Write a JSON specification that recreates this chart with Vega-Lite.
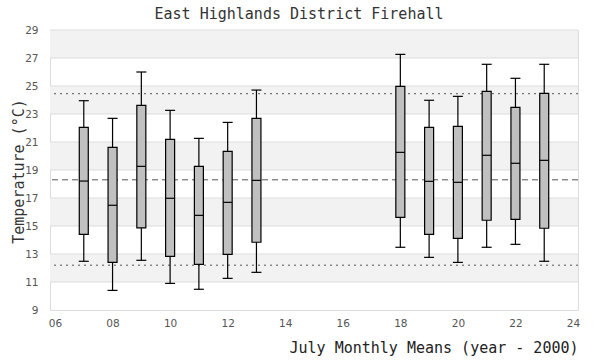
{
  "$schema": "https://vega.github.io/schema/vega-lite/v6.json",
  "width": 528,
  "height": 280,
  "autosize": "none",
  "padding": {"left": 50, "top": 30, "right": 22, "bottom": 50},
  "background": "white",
  "title": {"text": "East Highlands District Firehall", "font": "DejaVu Sans Mono", "fontSize": 15, "fontWeight": "normal", "color": "#333", "anchor": "middle", "dx": -15, "offset": 3},
  "config": {
    "view": {"stroke": "#dddddd", "strokeWidth": 1},
    "axis": {"domain": false, "ticks": false, "grid": false, "labelFont": "DejaVu Sans", "labelFontSize": 10.5, "labelColor": "#555", "labelOverlap": false},
    "axisY": {"labelPadding": 12, "labelOverlap": false, "titleFont": "DejaVu Sans Mono", "titleFontSize": 15, "titleFontWeight": "normal", "titleColor": "#333",
      "titleX": -32, "titleY": 141, "titleAngle": 270, "titleBaseline": "middle", "titleAlign": "center"},
    "axisX": {"labelPadding": 8, "titleFont": "DejaVu Sans Mono", "titleFontSize": 15, "titleFontWeight": "normal", "titleColor": "#222",
      "titleX": 528, "titleY": 42, "titleAlign": "right", "titleBaseline": "alphabetic"}
  },
  "datasets": {
    "bands": [
      {"lo": 11, "hi": 13}, {"lo": 15, "hi": 17}, {"lo": 19, "hi": 21}, {"lo": 23, "hi": 25}, {"lo": 27, "hi": 29}
    ],
    "refs": [
      {"kind": "mean", "v": 18.3},
      {"kind": "limit", "v": 24.45},
      {"kind": "limit", "v": 12.2}
    ],
    "boxes": [
      {"year": 7, "lower": 12.48, "q1": 14.4, "median": 18.21, "q3": 22.05, "upper": 23.95},
      {"year": 8, "lower": 10.4, "q1": 12.4, "median": 16.48, "q3": 20.62, "upper": 22.69},
      {"year": 9, "lower": 12.55, "q1": 14.86, "median": 19.26, "q3": 23.62, "upper": 26.0},
      {"year": 10, "lower": 10.9, "q1": 12.83, "median": 16.98, "q3": 21.19, "upper": 23.26},
      {"year": 11, "lower": 10.48, "q1": 12.26, "median": 15.76, "q3": 19.26, "upper": 21.26},
      {"year": 12, "lower": 11.26, "q1": 12.98, "median": 16.69, "q3": 20.33, "upper": 22.4},
      {"year": 13, "lower": 11.69, "q1": 13.84, "median": 18.26, "q3": 22.69, "upper": 24.71},
      {"year": 18, "lower": 13.48, "q1": 15.62, "median": 20.26, "q3": 24.98, "upper": 27.26},
      {"year": 19, "lower": 12.76, "q1": 14.4, "median": 18.19, "q3": 22.05, "upper": 23.98},
      {"year": 20, "lower": 12.4, "q1": 14.12, "median": 18.12, "q3": 22.12, "upper": 24.26},
      {"year": 21, "lower": 13.48, "q1": 15.41, "median": 20.05, "q3": 24.62, "upper": 26.55},
      {"year": 22, "lower": 13.69, "q1": 15.48, "median": 19.48, "q3": 23.48, "upper": 25.55},
      {"year": 23, "lower": 12.48, "q1": 14.84, "median": 19.69, "q3": 24.48, "upper": 26.55}
    ]
  },
  "layer": [
    {
      "data": {"name": "bands"},
      "mark": {"type": "rect", "color": "#f2f2f2"},
      "encoding": {
        "y": {"field": "lo", "type": "quantitative", "scale": {"domain": [9, 29], "nice": false, "zero": false},
          "axis": {"values": [9, 11, 13, 15, 17, 19, 21, 23, 25, 27, 29], "labelOverlap": false, "title": "Temperature (°C)"}},
        "y2": {"field": "hi"}
      }
    },
    {
      "data": {"name": "bands"},
      "mark": {"type": "rule", "color": "#dddddd", "strokeWidth": 1},
      "encoding": {"y": {"field": "lo", "type": "quantitative", "axis": {"values": [9, 11, 13, 15, 17, 19, 21, 23, 25, 27, 29], "labelOverlap": false, "title": "Temperature (°C)"}}}
    },
    {
      "data": {"name": "bands"},
      "mark": {"type": "rule", "color": "#dddddd", "strokeWidth": 1},
      "encoding": {"y": {"field": "hi", "type": "quantitative", "axis": {"values": [9, 11, 13, 15, 17, 19, 21, 23, 25, 27, 29], "labelOverlap": false, "title": "Temperature (°C)"}}}
    },
    {
      "data": {"name": "refs"},
      "transform": [{"filter": "datum.kind == 'mean'"}],
      "mark": {"type": "rule", "color": "#555", "strokeWidth": 1, "strokeDash": [6, 4]},
      "encoding": {"y": {"field": "v", "type": "quantitative", "axis": {"values": [9, 11, 13, 15, 17, 19, 21, 23, 25, 27, 29], "labelOverlap": false, "title": "Temperature (°C)"}}}
    },
    {
      "data": {"name": "refs"},
      "transform": [{"filter": "datum.kind == 'limit'"}],
      "mark": {"type": "rule", "color": "#555", "strokeWidth": 1, "strokeDash": [2, 4]},
      "encoding": {"y": {"field": "v", "type": "quantitative", "axis": {"values": [9, 11, 13, 15, 17, 19, 21, 23, 25, 27, 29], "labelOverlap": false, "title": "Temperature (°C)"}}}
    },
    {
      "data": {"name": "boxes"},
      "mark": {"type": "rule", "color": "black", "strokeWidth": 1.2},
      "encoding": {
        "x": {"field": "year", "type": "quantitative", "scale": {"domain": [6, 24], "nice": false, "zero": false},
          "axis": {"values": [6, 8, 10, 12, 14, 16, 18, 20, 22, 24], "format": "02d", "title": "July Monthly Means (year - 2000)"}},
        "y": {"field": "lower", "type": "quantitative", "axis": {"values": [9, 11, 13, 15, 17, 19, 21, 23, 25, 27, 29], "labelOverlap": false, "title": "Temperature (°C)"}},
        "y2": {"field": "upper"}
      }
    },
    {
      "data": {"name": "boxes"},
      "mark": {"type": "bar", "size": 9, "fill": "#c0c0c0", "stroke": "black", "strokeWidth": 1.2},
      "encoding": {
        "x": {"field": "year", "type": "quantitative", "axis": {"values": [6, 8, 10, 12, 14, 16, 18, 20, 22, 24], "format": "02d", "title": "July Monthly Means (year - 2000)"}},
        "y": {"field": "q1", "type": "quantitative", "axis": {"values": [9, 11, 13, 15, 17, 19, 21, 23, 25, 27, 29], "labelOverlap": false, "title": "Temperature (°C)"}},
        "y2": {"field": "q3"}
      }
    },
    {
      "data": {"name": "boxes"},
      "mark": {"type": "tick", "orient": "horizontal", "size": 9, "thickness": 1.2, "color": "black", "opacity": 1},
      "encoding": {
        "x": {"field": "year", "type": "quantitative", "axis": {"values": [6, 8, 10, 12, 14, 16, 18, 20, 22, 24], "format": "02d", "title": "July Monthly Means (year - 2000)"}},
        "y": {"field": "median", "type": "quantitative", "axis": {"values": [9, 11, 13, 15, 17, 19, 21, 23, 25, 27, 29], "labelOverlap": false, "title": "Temperature (°C)"}}
      }
    },
    {
      "data": {"name": "boxes"},
      "mark": {"type": "tick", "orient": "horizontal", "size": 10, "thickness": 1.2, "color": "black", "opacity": 1},
      "encoding": {
        "x": {"field": "year", "type": "quantitative", "axis": {"values": [6, 8, 10, 12, 14, 16, 18, 20, 22, 24], "format": "02d", "title": "July Monthly Means (year - 2000)"}},
        "y": {"field": "upper", "type": "quantitative", "axis": {"values": [9, 11, 13, 15, 17, 19, 21, 23, 25, 27, 29], "labelOverlap": false, "title": "Temperature (°C)"}}
      }
    },
    {
      "data": {"name": "boxes"},
      "mark": {"type": "tick", "orient": "horizontal", "size": 10, "thickness": 1.2, "color": "black", "opacity": 1},
      "encoding": {
        "x": {"field": "year", "type": "quantitative", "axis": {"values": [6, 8, 10, 12, 14, 16, 18, 20, 22, 24], "format": "02d", "title": "July Monthly Means (year - 2000)"}},
        "y": {"field": "lower", "type": "quantitative", "axis": {"values": [9, 11, 13, 15, 17, 19, 21, 23, 25, 27, 29], "labelOverlap": false, "title": "Temperature (°C)"}}
      }
    }
  ]
}
